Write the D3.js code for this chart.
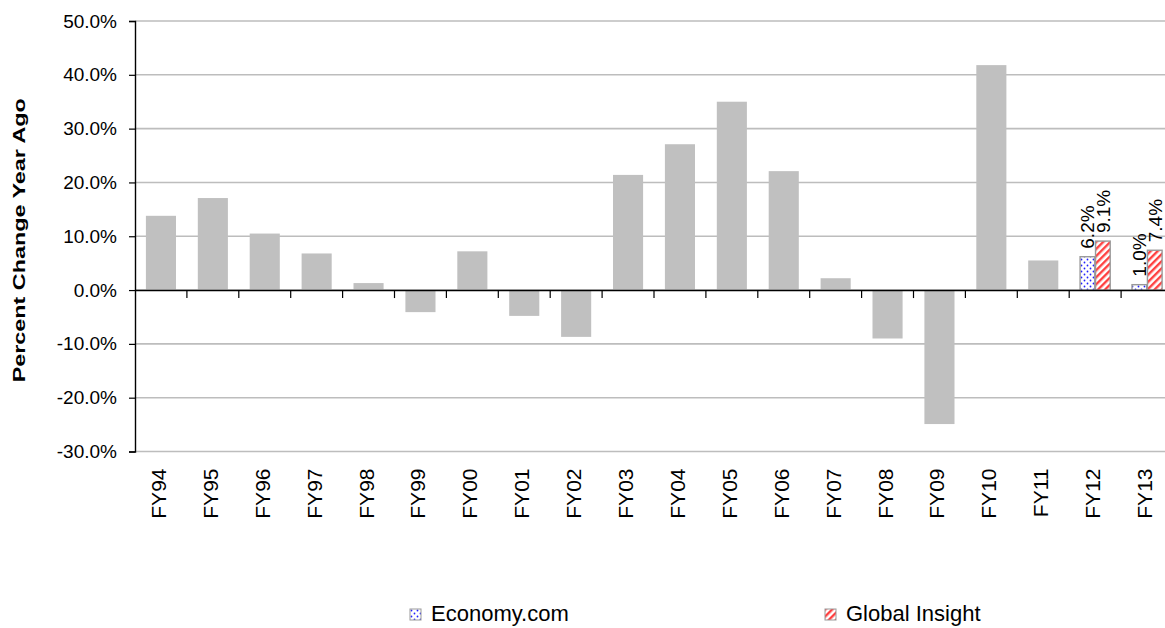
<!DOCTYPE html>
<html>
<head>
<meta charset="utf-8">
<script src="https://cdn.jsdelivr.net/npm/d3@7"></script>
<style>
  body { margin: 0; background: #fff; }
  svg { font-family: "Liberation Sans", Arial, sans-serif; }
</style>
</head>
<body>
<div id="chart"></div>
<script>
const years = ["FY94","FY95","FY96","FY97","FY98","FY99","FY00","FY01","FY02","FY03",
               "FY04","FY05","FY06","FY07","FY08","FY09","FY10","FY11","FY12","FY13"];
// actual history (gray bars)
const actual = [13.8, 17.1, 10.5, 6.8, 1.3, -4.1, 7.2, -4.8, -8.7, 21.4,
                27.1, 35.0, 22.1, 2.2, -9.0, -24.9, 41.8, 5.5, null, null];
// forecasts
const forecastYears = ["FY12", "FY13"];
const economyCom = [6.2, 1.0];
const globalInsight = [9.1, 7.4];
const yTicks = [-30, -20, -10, 0, 10, 20, 30, 40, 50];

const width = 1165, height = 628;
const x0 = 135, x1 = 1173, yTop = 21, yBot = 451.5;

const svg = d3.select("#chart").append("svg")
  .attr("width", width).attr("height", height);

const defs = svg.append("defs");
const dots = defs.append("pattern").attr("id", "dots")
  .attr("patternUnits", "userSpaceOnUse").attr("width", 6).attr("height", 6);
dots.append("rect").attr("width", 6).attr("height", 6).attr("fill", "#fff");
dots.append("circle").attr("cx", 1.5).attr("cy", 1.5).attr("r", 0.9).attr("fill", "#2020ff");
dots.append("circle").attr("cx", 4.5).attr("cy", 4.5).attr("r", 0.9).attr("fill", "#2020ff");

const stripes = defs.append("pattern").attr("id", "stripes")
  .attr("patternUnits", "userSpaceOnUse").attr("width", 5).attr("height", 5)
  .attr("patternTransform", "rotate(45)");
stripes.append("rect").attr("width", 5).attr("height", 5).attr("fill", "#fff");
stripes.append("rect").attr("width", 2.4).attr("height", 5).attr("fill", "#ff4040");

const x = d3.scaleBand().domain(years).range([x0, x1]).paddingInner(0.42).paddingOuter(0.21);
const y = d3.scaleLinear().domain([-30, 50]).range([yBot, yTop]);

// gridlines
svg.append("g").selectAll("line").data(yTicks).join("line")
  .attr("x1", x0).attr("x2", width)
  .attr("y1", d => y(d)).attr("y2", d => y(d))
  .attr("stroke", "#bdbdbd").attr("stroke-width", 1.6);

// actual bars
svg.append("g").selectAll("rect")
  .data(years.map((k, i) => ({ k, v: actual[i] })).filter(d => d.v !== null))
  .join("rect")
  .attr("x", d => x(d.k))
  .attr("width", x.bandwidth())
  .attr("y", d => y(Math.max(0, d.v)))
  .attr("height", d => Math.abs(y(d.v) - y(0)))
  .attr("fill", "#c0c0c0");

// forecast bars
const series = [
  { name: "Economy.com", values: economyCom, fill: "url(#dots)" },
  { name: "Global Insight", values: globalInsight, fill: "url(#stripes)" }
];
const xs = d3.scaleBand().domain(series.map(s => s.name)).range([0, x.bandwidth()]).paddingInner(0.05);
const fg = svg.append("g");
series.forEach(s => {
  forecastYears.forEach((fy, i) => {
    const v = s.values[i];
    const bx = x(fy) + xs(s.name);
    fg.append("rect")
      .attr("x", bx).attr("width", xs.bandwidth())
      .attr("y", y(Math.max(0, v)))
      .attr("height", Math.abs(y(v) - y(0)))
      .attr("fill", s.fill).attr("stroke", "#999").attr("stroke-width", 1.4);
    fg.append("text")
      .attr("transform", `translate(${bx + xs.bandwidth() / 2 + 7},${y(v) - 8}) rotate(-90)`)
      .attr("font-size", 19).attr("fill", "#000")
      .text(v.toFixed(1) + "%");
  });
});

// y axis
const yAxis = svg.append("g").attr("transform", `translate(${x0},0)`)
  .call(d3.axisLeft(y).tickValues(yTicks).tickSize(6).tickPadding(12)
    .tickFormat(d => d.toFixed(1) + "%"));
yAxis.select(".domain").attr("stroke", "#000").attr("stroke-width", 1.4);
yAxis.selectAll(".tick line").attr("stroke", "#000").attr("stroke-width", 1.2);
yAxis.selectAll("text").attr("font-size", 19).attr("fill", "#000")
  .attr("font-family", "Liberation Sans, Arial, sans-serif");

// x axis at zero
const xAxis = svg.append("g").attr("transform", `translate(0,${y(0)})`)
  .call(d3.axisBottom(x).tickSize(0).tickFormat(""));
xAxis.select(".domain").attr("stroke", "#000").attr("stroke-width", 1.4);
const step = x.step();
svg.append("g").selectAll("line").data(d3.range(1, years.length)).join("line")
  .attr("x1", i => x0 + i * step).attr("x2", i => x0 + i * step)
  .attr("y1", y(0)).attr("y2", y(0) + 8)
  .attr("stroke", "#000").attr("stroke-width", 1.2);

// category labels
svg.append("g").selectAll("text").data(years).join("text")
  .attr("transform", d => `translate(${x(d) + x.bandwidth() / 2 + 5},${yBot + 17}) rotate(-90)`)
  .attr("text-anchor", "end").attr("font-size", 21).attr("fill", "#000")
  .text(d => d);

// y title
svg.append("text")
  .attr("transform", `translate(25,${(yTop + yBot) / 2 + 4}) rotate(-90)`)
  .attr("text-anchor", "middle").attr("font-size", 17).attr("font-weight", "bold")
  .attr("textLength", 284).attr("lengthAdjust", "spacingAndGlyphs")
  .text("Percent Change Year Ago");

// legend
const legend = [
  { name: "Economy.com", fill: "url(#dots)", x: 410 },
  { name: "Global Insight", fill: "url(#stripes)", x: 825 }
];
const lg = svg.append("g").selectAll("g").data(legend).join("g")
  .attr("transform", d => `translate(${d.x},615)`);
lg.append("rect").attr("x", 0).attr("y", -6).attr("width", 11).attr("height", 11)
  .attr("fill", d => d.fill).attr("stroke", "#999");
lg.append("text").attr("x", 21).attr("y", 6).attr("font-size", 22).text(d => d.name);
</script>
</body>
</html>
